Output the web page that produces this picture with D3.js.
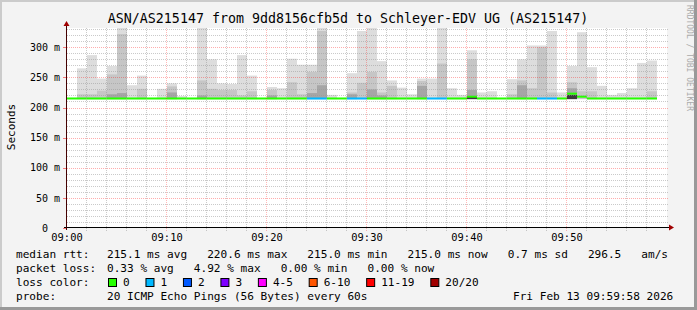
<!DOCTYPE html>
<html>
<head>
<meta charset="utf-8">
<script src="https://cdn.jsdelivr.net/npm/d3@7/dist/d3.min.js"></script>
<style>
  body { margin: 0; background: #fff; }
  svg text { font-family: "DejaVu Sans Mono", monospace; }
</style>
</head>
<body>
<svg id="chart" width="697" height="310"></svg>
<script>
// one step per minute, 09:00 .. 09:58 (values in ms)
const pingMin = [214,214,214,214,214,214,214,214,214,214, 214,214,214,214,214,214,214,214,214,214,
                 214,214,214,214,214,214,214,214,214,214, 214,214,214,214,214,214,214,214,214,214,
                 214,214,214,214,214,214,214,214,214,214, 214,214,214,214,214,214,214,214,214];
const smokeMax = [null,265,287,248,269,340,237,253,null,231, 240,219,null,340,280,240,239,287,253,null,
                  234,232,281,271,271,340,221,null,257,327, 340,277,245,233,222,248,248,340,232,221,
                  295,225,227,null,247,280,303,303,327,225, 269,325,267,236,221,224,232,274,278];
const smokeUpper = [null,222,222,228,255,322,null,231,null,null, 235,null,null,245,231,229,229,220,227,null,
                    229,null,242,222,259,327,null,null,225,241, 259,225,236,null,null,244,null,273,null,null,
                    280,null,null,null,222,245,232,300,225,null, 242,227,227,null,null,null,null,null,227];
const smokeInner = [null,null,null,null,222,224,null,null,null,null, 225,null,null,220,null,null,null,null,null,null,
                    220,null,null,null,224,237,null,null,222,null, 230,220,null,null,null,236,null,null,null,null,
                    229,null,null,null,null,237,null,null,null,null, 232,null,null,null,null,null,null,null,null];
const smokeCore = [null,null,null,null,null,null,null,null,null,null, null,null,null,null,null,null,null,null,null,null,
                   null,null,null,null,null,null,null,null,null,null, null,null,null,null,null,null,null,null,null,null,
                   219,null,null,null,null,null,null,null,null,null, 221,null,null,null,null,null,null,null,null];
const medianRtt = [215,215,215,215,215,215,215,215,215,215, 215,215,215,215,215,215,215,215,215,215,
                   215,215,215,215,215,215,215,215,215,215, 215,215,215,215,215,215,215,215,215,215,
                   218,215,215,215,215,215,215,215,215,215, 223,218,215,215,215,215,215,215,215];
const lostPings = [0,0,0,0,0,0,0,0,0,0, 0,0,0,0,0,0,0,0,0,0,
                   0,0,0,0,1,1,0,0,1,1, 0,0,0,0,0,0,1,1,0,0,
                   0,0,0,0,0,0,0,1,1,0, 0,0,0,0,0,0,0,0,0];

const lossLabels = ['0', '1', '2', '3', '4-5', '6-10', '11-19', '20/20'];
const lossColors = ['#26ff00', '#00b8ff', '#0059ff', '#7e00ff', '#ff00ff', '#ff5500', '#ff0000', '#a10000'];
const yTicks = [0, 50, 100, 150, 200, 250, 300];

const svg = d3.select('#chart');
const W = 697, H = 310;
const pLeft = 66, pRight = 666, pTop = 28, pBottom = 228;

// background with rrdtool style shading
svg.append('rect').attr('width', W).attr('height', H).attr('fill', '#f3f3f3');
svg.append('rect').attr('x', 0).attr('y', 0).attr('width', W).attr('height', 2).attr('fill', '#cbcbcb');
svg.append('rect').attr('x', 0).attr('y', 0).attr('width', 2).attr('height', H).attr('fill', '#cbcbcb');
svg.append('rect').attr('x', 0).attr('y', H - 3).attr('width', W).attr('height', 3).attr('fill', '#999');
svg.append('rect').attr('x', W - 3).attr('y', 0).attr('width', 3).attr('height', H).attr('fill', '#999');

const t0 = new Date(2026, 1, 13, 9, 0);
const t1 = new Date(2026, 1, 13, 10, 0);
const xScale = d3.scaleTime().domain([t0, t1]).range([pLeft + 0.5, pRight + 0.5]);
const yScale = d3.scaleLinear().domain([0, 332]).range([pBottom, pTop]);
const stepTime = i => d3.timeMinute.offset(t0, i);

svg.append('rect')
  .attr('x', pLeft).attr('y', pTop)
  .attr('width', pRight - pLeft + 1).attr('height', pBottom - pTop)
  .attr('fill', '#fff');

const plot = svg.append('g');
plot.append('clipPath').attr('id', 'clip')
  .append('rect').attr('x', pLeft).attr('y', pTop).attr('width', pRight - pLeft + 1).attr('height', pBottom - pTop);
const marks = plot.append('g').attr('clip-path', 'url(#clip)');

// smoke bands, lightest (widest) first
const bands = [
  { values: smokeMax, color: '#dddddd' },
  { values: smokeUpper, color: '#c6c6c6' },
  { values: smokeInner, color: '#a6a6a6' },
  { values: smokeCore, color: '#3a3a3a' }
];
bands.forEach(b => {
  marks.append('g').selectAll('rect')
    .data(b.values.map((v, i) => ({ v, i })).filter(d => d.v != null))
    .join('rect')
    .attr('x', d => xScale(stepTime(d.i)) + 0.5)
    .attr('width', d => xScale(stepTime(d.i + 1)) - xScale(stepTime(d.i)))
    .attr('y', d => yScale(d.v))
    .attr('height', d => yScale(pingMin[d.i]) - yScale(d.v))
    .attr('fill', b.color);
});

// median line coloured by loss
const lossColor = n => {
  if (n === 0) return lossColors[0];
  if (n <= 3) return lossColors[n];
  if (n <= 5) return lossColors[4];
  if (n <= 10) return lossColors[5];
  if (n <= 19) return lossColors[6];
  return lossColors[7];
};
marks.append('g').selectAll('rect')
  .data(medianRtt)
  .join('rect')
  .attr('x', (d, i) => xScale(stepTime(i)) + 0.5)
  .attr('width', (d, i) => xScale(stepTime(i + 1)) - xScale(stepTime(i)))
  .attr('y', d => yScale(d) - 1)
  .attr('height', 2)
  .attr('fill', (d, i) => lossColor(lostPings[i]));

// grid on top of the data
const grid = svg.append('g');
const minorY = d3.range(10, 331, 10).filter(v => v % 50 !== 0);
grid.append('g').selectAll('line').data(minorY).join('line')
  .attr('x1', pLeft + 1).attr('x2', pRight + 2)
  .attr('y1', d => Math.round(yScale(d)) + 0.5).attr('y2', d => Math.round(yScale(d)) + 0.5)
  .attr('stroke', 'rgba(150,150,150,0.5)').attr('stroke-dasharray', '1,1');
grid.append('g').selectAll('line').data(yTicks.filter(v => v > 0)).join('line')
  .attr('x1', pLeft + 1).attr('x2', pRight + 2)
  .attr('y1', d => Math.round(yScale(d)) + 0.5).attr('y2', d => Math.round(yScale(d)) + 0.5)
  .attr('stroke', 'rgba(255,0,0,0.32)').attr('stroke-dasharray', '1,1');

const minorX = d3.timeMinute.every(2).range(d3.timeMinute.offset(t0, 2), t1)
  .filter(t => t.getMinutes() % 10 !== 0);
const majorX = d3.timeMinute.every(10).range(d3.timeMinute.offset(t0, 10), t1);
grid.append('g').selectAll('line').data(minorX).join('line')
  .attr('x1', d => xScale(d)).attr('x2', d => xScale(d))
  .attr('y1', pTop).attr('y2', pBottom + 3)
  .attr('stroke', 'rgba(150,150,150,0.5)').attr('stroke-dasharray', '1,1');
grid.append('g').selectAll('line').data(majorX).join('line')
  .attr('x1', d => xScale(d)).attr('x2', d => xScale(d))
  .attr('y1', pTop).attr('y2', pBottom + 3)
  .attr('stroke', 'rgba(255,0,0,0.28)').attr('stroke-dasharray', '1,1');

// axes
svg.append('g')
  .attr('transform', `translate(0,${pBottom})`)
  .call(d3.axisBottom(xScale).tickValues([t0].concat(majorX)).tickFormat(d3.timeFormat('%H:%M')).tickSize(0))
  .call(g => g.select('.domain').remove())
  .call(g => g.selectAll('.tick text')
    .attr('y', 6).attr('dy', '0.71em')
    .attr('fill', '#000')
    .style('font-family', '"DejaVu Sans Mono", monospace')
    .style('font-size', '10.4px'));

svg.append('g')
  .attr('transform', `translate(${pLeft},0)`)
  .call(d3.axisLeft(yScale).tickValues(yTicks).tickFormat(v => v === 0 ? '0' : v + ' m').tickSize(0))
  .call(g => g.select('.domain').remove())
  .call(g => g.selectAll('.tick text')
    .attr('x', d => d === 0 ? -18 : -6)
    .attr('fill', '#000')
    .style('font-family', '"DejaVu Sans Mono", monospace')
    .style('font-size', '10px'));

// small tick marks next to the y axis
svg.append('g').selectAll('line').data(yTicks).join('line')
  .attr('x1', pLeft - 3).attr('x2', pLeft)
  .attr('y1', d => Math.round(yScale(d)) + 0.5).attr('y2', d => Math.round(yScale(d)) + 0.5)
  .attr('stroke', 'rgba(255,0,0,0.5)');

svg.append('line')
  .attr('x1', pLeft - 2).attr('x2', pRight + 4)
  .attr('y1', pBottom - 0.5).attr('y2', pBottom - 0.5)
  .attr('stroke', '#000');
svg.append('line')
  .attr('x1', pLeft + 0.5).attr('x2', pLeft + 0.5)
  .attr('y1', pBottom + 2).attr('y2', pTop - 4)
  .attr('stroke', '#400');
svg.append('path')
  .attr('d', `M${pRight + 3},${pBottom - 3.5} L${pRight + 8},${pBottom - 0.5} L${pRight + 3},${pBottom + 2.5} Z`)
  .attr('fill', '#a00000');
svg.append('path')
  .attr('d', `M${pLeft - 2.5},${pTop - 2} L${pLeft + 0.5},${pTop - 7} L${pLeft + 3.5},${pTop - 2} Z`)
  .attr('fill', '#a00000');

// titles
svg.append('text')
  .attr('x', 348).attr('y', 23)
  .attr('text-anchor', 'middle')
  .style('font-size', '13.3px')
  .text('ASN/AS215147 from 9dd8156cfb5d to Schleyer-EDV UG (AS215147)');

svg.append('text')
  .attr('transform', 'translate(15,127) rotate(-90)')
  .attr('text-anchor', 'middle')
  .style('font-size', '11px')
  .text('Seconds');

svg.append('text')
  .attr('transform', 'translate(687,5) rotate(90)')
  .attr('fill', '#aaa')
  .style('font-size', '8px')
  .text('RRDTOOL / TOBI OETIKER');

// legend
const legend = svg.append('g').style('font-size', '11.1px');
const rows = [
  ['median rtt:', '215.1 ms avg   220.6 ms max   215.0 ms min   215.0 ms now   0.7 ms sd   296.5   am/s'],
  ['packet loss:', '0.33 % avg   4.92 % max   0.00 % min   0.00 % now'],
  ['loss color:', ''],
  ['probe:', '20 ICMP Echo Pings (56 Bytes) every 60s']
];
rows.forEach((r, i) => {
  const y = 258 + i * 14;
  legend.append('text').attr('x', 16).attr('y', y).text(r[0]);
  legend.append('text').attr('x', 107).attr('y', y).style('white-space', 'pre').text(r[1]);
});
legend.append('text').attr('x', 513).attr('y', 300).text('Fri Feb 13 09:59:58 2026');

let sx = 108.5;
lossLabels.forEach((lab, i) => {
  legend.append('rect')
    .attr('x', sx).attr('y', 278.5).attr('width', 8).attr('height', 8)
    .attr('fill', lossColors[i]).attr('stroke', '#000');
  legend.append('text').attr('x', sx + 14.5).attr('y', 286).text(lab);
  sx += 15 + lab.length * 6.67 + 15.8;
});
</script>
</body>
</html>
